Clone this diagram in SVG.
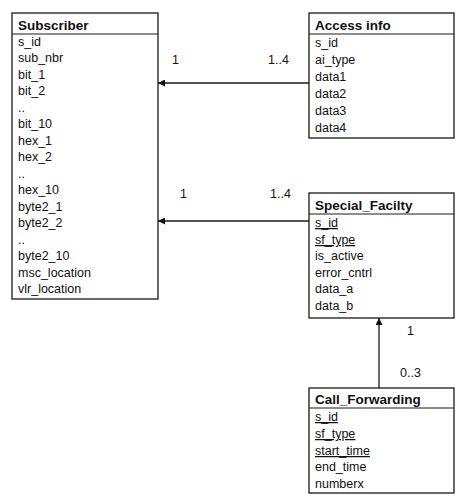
<svg xmlns="http://www.w3.org/2000/svg" width="468" height="503" viewBox="0 0 468 503">
<defs>
<style>
.box{fill:#fff;stroke:#1a1a1a;stroke-width:1.3}
.sep{stroke:#1a1a1a;stroke-width:1.2}
.hdr{font-family:"Liberation Sans",Arial,sans-serif;font-size:13.5px;font-weight:bold;fill:#111}
.att{font-family:"Liberation Sans",Arial,sans-serif;font-size:12.5px;fill:#111}
.u{text-decoration:underline}
.lbl{font-family:"Liberation Sans",Arial,sans-serif;font-size:12.5px;fill:#111}
.con{stroke:#1a1a1a;stroke-width:1.3;fill:none}
</style>
<marker id="ah" viewBox="0 0 10 10" refX="10" refY="5" markerWidth="7" markerHeight="7" markerUnits="userSpaceOnUse" orient="auto">
<path d="M0,0 L10,5 L0,10 z" fill="#111"/>
</marker>
</defs>
<rect width="468" height="503" fill="#fff"/>
<g id="Subscriber">
<rect class="box" x="12" y="13" width="146" height="286"/>
<line class="sep" x1="12" y1="34" x2="158" y2="34"/>
<text class="hdr" x="18" y="30">Subscriber</text>
<text class="att" x="18" y="45.5">s_id</text>
<text class="att" x="18" y="62">sub_nbr</text>
<text class="att" x="18" y="78.5">bit_1</text>
<text class="att" x="18" y="95">bit_2</text>
<text class="att" x="18" y="111.5">..</text>
<text class="att" x="18" y="128">bit_10</text>
<text class="att" x="18" y="144.5">hex_1</text>
<text class="att" x="18" y="161">hex_2</text>
<text class="att" x="18" y="177.5">..</text>
<text class="att" x="18" y="194">hex_10</text>
<text class="att" x="18" y="210.5">byte2_1</text>
<text class="att" x="18" y="227">byte2_2</text>
<text class="att" x="18" y="243.5">..</text>
<text class="att" x="18" y="260">byte2_10</text>
<text class="att" x="18" y="276.5">msc_location</text>
<text class="att" x="18" y="293">vlr_location</text>
</g>
<g id="Access_info">
<rect class="box" x="309" y="13" width="145" height="125"/>
<line class="sep" x1="309" y1="34" x2="454" y2="34"/>
<text class="hdr" x="315" y="30">Access info</text>
<text class="att" x="315" y="47">s_id</text>
<text class="att" x="315" y="64">ai_type</text>
<text class="att" x="315" y="81">data1</text>
<text class="att" x="315" y="98">data2</text>
<text class="att" x="315" y="115">data3</text>
<text class="att" x="315" y="132">data4</text>
</g>
<g id="Special_Facilty">
<rect class="box" x="309" y="193" width="145" height="125"/>
<line class="sep" x1="309" y1="214" x2="454" y2="214"/>
<text class="hdr" x="315" y="210">Special_Facilty</text>
<text class="att u" x="315" y="227">s_id</text>
<text class="att u" x="315" y="244">sf_type</text>
<text class="att" x="315" y="260">is_active</text>
<text class="att" x="315" y="277">error_cntrl</text>
<text class="att" x="315" y="293">data_a</text>
<text class="att" x="315" y="310">data_b</text>
</g>
<g id="Call_Forwarding">
<rect class="box" x="309" y="388" width="145" height="105"/>
<line class="sep" x1="309" y1="408" x2="454" y2="408"/>
<text class="hdr" x="315" y="404">Call_Forwarding</text>
<text class="att u" x="315" y="421">s_id</text>
<text class="att u" x="315" y="438">sf_type</text>
<text class="att u" x="315" y="455">start_time</text>
<text class="att" x="315" y="471">end_time</text>
<text class="att" x="315" y="488">numberx</text>
</g>
<g id="connectors">
<line class="con" x1="309" y1="83" x2="158" y2="83" marker-end="url(#ah)"/>
<line class="con" x1="309" y1="221" x2="158" y2="221" marker-end="url(#ah)"/>
<line class="con" x1="379" y1="388" x2="379" y2="318" marker-end="url(#ah)"/>
<text class="lbl" x="172" y="64">1</text>
<text class="lbl" x="268" y="64">1..4</text>
<text class="lbl" x="180" y="198">1</text>
<text class="lbl" x="270" y="198">1..4</text>
<text class="lbl" x="407" y="335">1</text>
<text class="lbl" x="400" y="377">0..3</text>
</g>
</svg>
